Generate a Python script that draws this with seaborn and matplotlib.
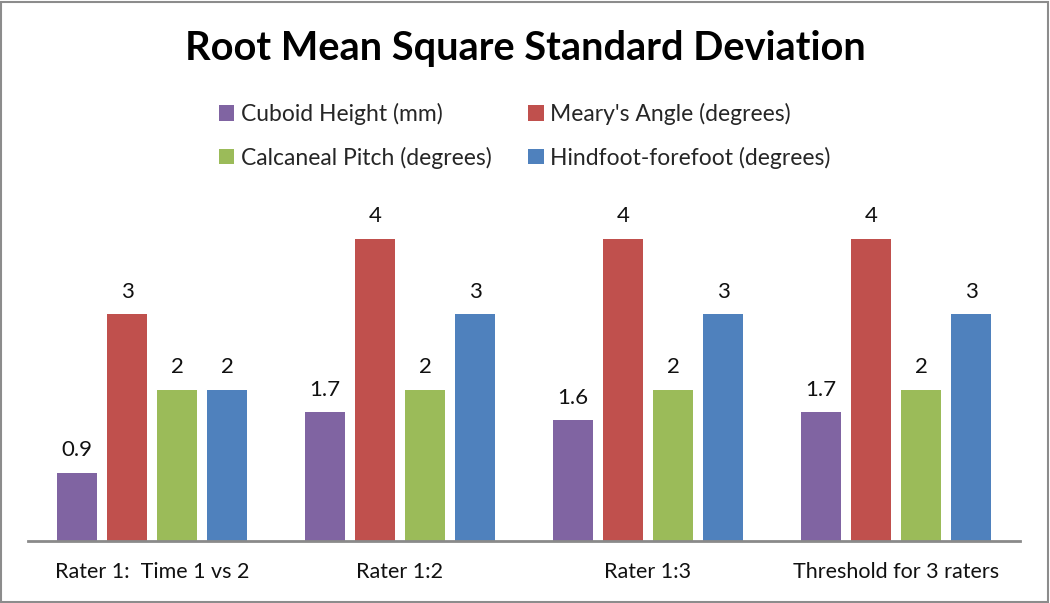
import seaborn as sns
import pandas as pd
import matplotlib.pyplot as plt
from matplotlib.patches import Rectangle

# chart data
groups = ['Rater 1:  Time 1 vs 2', 'Rater 1:2', 'Rater 1:3', 'Threshold for 3 raters']
series = ['Cuboid Height (mm)', "Meary's Angle (degrees)",
          'Calcaneal Pitch (degrees)', 'Hindfoot-forefoot (degrees)']
cuboid_height = [0.9, 1.7, 1.6, 1.7]
mearys_angle = [3, 4, 4, 4]
calcaneal_pitch = [2, 2, 2, 2]
hindfoot_forefoot = [2, 3, 3, 3]
colors = ['#8064A2', '#C0504D', '#9BBB59', '#4F81BD']

rows = []
for name, vals in zip(series, [cuboid_height, mearys_angle, calcaneal_pitch, hindfoot_forefoot]):
    for g, v in zip(groups, vals):
        rows.append({'Group': g, 'Value': v, 'Series': name})
df = pd.DataFrame(rows)

sns.set_theme(style='white')
plt.rcParams['font.family'] = ['Lato', 'DejaVu Sans']

fig = plt.figure(figsize=(10.5, 6.03), dpi=100)
ax = fig.add_axes([28 / 1050, 62 / 603, 992 / 1050, 378 / 603])

sns.barplot(data=df, x='Group', y='Value', hue='Series', palette=colors,
            saturation=1, width=0.806, gap=0.2, ax=ax, legend=True, linewidth=0)

for cont in ax.containers:
    ax.bar_label(cont, fmt='{:g}', padding=9, fontsize=16, color='#111111')

ax.set_ylim(0, 5)
ax.set_xlabel('')
ax.set_ylabel('')
ax.set_yticks([])
ax.tick_params(axis='x', length=0, pad=15, labelsize=15.5, labelcolor='#111111')
for s in ['top', 'left', 'right']:
    ax.spines[s].set_visible(False)
ax.spines['bottom'].set_color('#8a8a8a')
ax.spines['bottom'].set_linewidth(2)

# legend fills column-wise: reorder so rows read Cuboid/Meary's, Calcaneal/Hindfoot
handles, labels = ax.get_legend_handles_labels()
ax.get_legend().remove()
order = [0, 2, 1, 3]
fig.legend([handles[i] for i in order], [labels[i] for i in order], ncol=2,
           loc='upper left', bbox_to_anchor=(198 / 1050, 1 - 82 / 603), frameon=False,
           fontsize=16.5, handlelength=0.68, handleheight=0.68,
           handletextpad=0.28, columnspacing=1.6, labelspacing=0.95)

fig.text(0.5, 1 - 60 / 603, 'Root Mean Square Standard Deviation',
         ha='center', va='baseline', fontsize=28.6, fontweight='bold', color='black')

fig.patches.append(Rectangle((0.001, 0.002), 0.997, 0.995, transform=fig.transFigure,
                             fill=False, edgecolor='#8c8c8c', linewidth=1.5))

fig.savefig('out.png', dpi=100)
